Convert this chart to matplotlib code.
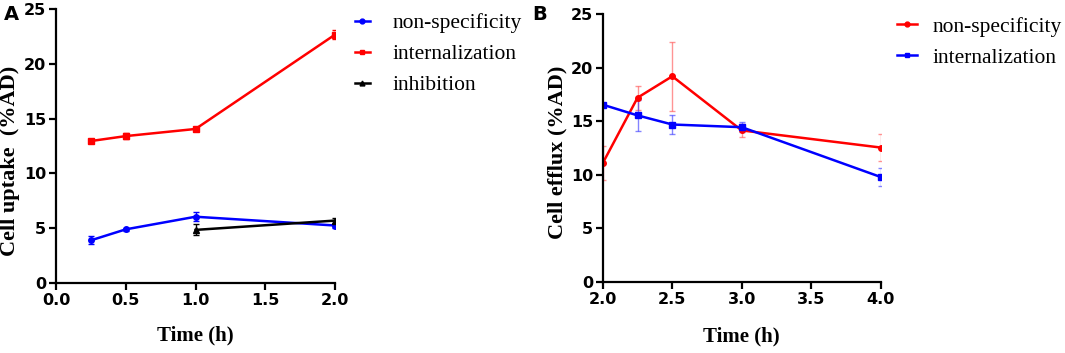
import matplotlib
matplotlib.use('Agg')
import matplotlib.pyplot as plt
from matplotlib.lines import Line2D
from matplotlib.font_manager import FontProperties

# panel A: cell uptake
t_a = [0.25, 0.5, 1.0, 2.0]
nonspec_a = [3.9, 4.9, 6.05, 5.25]
nonspec_a_err = [0.35, 0.15, 0.4, 0.2]
intern_a = [12.95, 13.4, 14.05, 22.65]
intern_a_err = [0.15, 0.25, 0.15, 0.4]
t_inh = [1.0, 2.0]
inhib_a = [4.85, 5.7]
inhib_a_err = [0.5, 0.25]

# panel B: cell efflux
t_b = [2.0, 2.25, 2.5, 3.0, 4.0]
nonspec_b = [11.1, 17.2, 19.2, 14.15, 12.55]
nonspec_b_err = [1.6, 1.1, 3.2, 0.6, 1.25]
intern_b = [16.55, 15.55, 14.7, 14.45, 9.8]
intern_b_err = [0.2, 1.45, 0.9, 0.45, 0.8]

tick_fp = FontProperties(family='DejaVu Sans', weight='bold', size=11.5)
xlab_font = dict(family='Liberation Serif', weight='bold', size=15)
ylab_font = dict(family='Liberation Serif', weight='bold', size=16)
leg_font = dict(family='Liberation Serif', size=15.5)

fig = plt.figure(figsize=(10.65, 3.53), dpi=100)
axA = fig.add_axes([0.0526, 0.198, 0.262, 0.777])
axB = fig.add_axes([0.566, 0.201, 0.261, 0.759])


def style(ax):
    for s in ('top', 'right'):
        ax.spines[s].set_visible(False)
    for s in ('left', 'bottom'):
        ax.spines[s].set_linewidth(1.6)
    ax.tick_params(width=1.6, length=5, pad=2)
    for lab in ax.get_xticklabels() + ax.get_yticklabels():
        lab.set_fontproperties(tick_fp)


def series(ax, x, y, e, c, ecol=None, marker='o'):
    ax.errorbar(x, y, yerr=e, color=c, ecolor=ecol or c, lw=1.8, elinewidth=1.0,
                capsize=2.5, capthick=1.0, marker=marker, ms=4)


series(axA, t_a, nonspec_a, nonspec_a_err, '#0000ff')
series(axA, t_a, intern_a, intern_a_err, '#ff0000', marker='s')
series(axA, t_inh, inhib_a, inhib_a_err, 'black', marker='^')
axA.set_xlim(0, 2.0)
axA.set_ylim(0, 25)
axA.set_xticks([0.0, 0.5, 1.0, 1.5, 2.0])
axA.set_xticklabels(['0.0', '0.5', '1.0', '1.5', '2.0'])
axA.set_yticks([0, 5, 10, 15, 20, 25])
style(axA)
axA.set_xlabel('Time (h)', **xlab_font)
axA.set_ylabel('Cell uptake  (%AD)', **ylab_font)
axA.yaxis.set_label_coords(-0.129, 0.445)
axA.xaxis.set_label_coords(0.5, -0.156)

series(axB, t_b, nonspec_b, nonspec_b_err, '#ff0000', ecol=(1, 0.3, 0.3, 0.6))
series(axB, t_b, intern_b, intern_b_err, '#0000ff', ecol=(0.2, 0.2, 1, 0.6), marker='s')
axB.set_xlim(2.0, 4.0)
axB.set_ylim(0, 25)
axB.set_xticks([2.0, 2.5, 3.0, 3.5, 4.0])
axB.set_xticklabels(['2.0', '2.5', '3.0', '3.5', '4.0'])
axB.set_yticks([0, 5, 10, 15, 20, 25])
style(axB)
axB.set_xlabel('Time (h)', **xlab_font)
axB.set_ylabel('Cell efflux (%AD)', **ylab_font)
axB.yaxis.set_label_coords(-0.126, 0.483)
axB.xaxis.set_label_coords(0.5, -0.164)


def handle(c, m):
    return Line2D([], [], color=c, lw=1.8, marker=m, ms=3.5)


fig.legend([handle('#0000ff', 'o'), handle('#ff0000', 's'), handle('black', '^')],
           ['non-specificity', 'internalization', 'inhibition'],
           loc='upper left', bbox_to_anchor=(0.333, 0.962), frameon=False,
           borderpad=0, borderaxespad=0, prop=leg_font, handlelength=0.7,
           labelspacing=0.5, handletextpad=1.05)
fig.legend([handle('#ff0000', 'o'), handle('#0000ff', 's')],
           ['non-specificity', 'internalization'],
           loc='upper left', bbox_to_anchor=(0.842, 0.952), frameon=False,
           borderpad=0, borderaxespad=0, prop=leg_font, handlelength=0.95,
           labelspacing=0.5, handletextpad=0.7)

fig.text(0.004, 0.985, 'A', fontsize=14, weight='bold', va='top')
fig.text(0.500, 0.985, 'B', fontsize=14, weight='bold', va='top')

fig.savefig('out.png', dpi=100)
